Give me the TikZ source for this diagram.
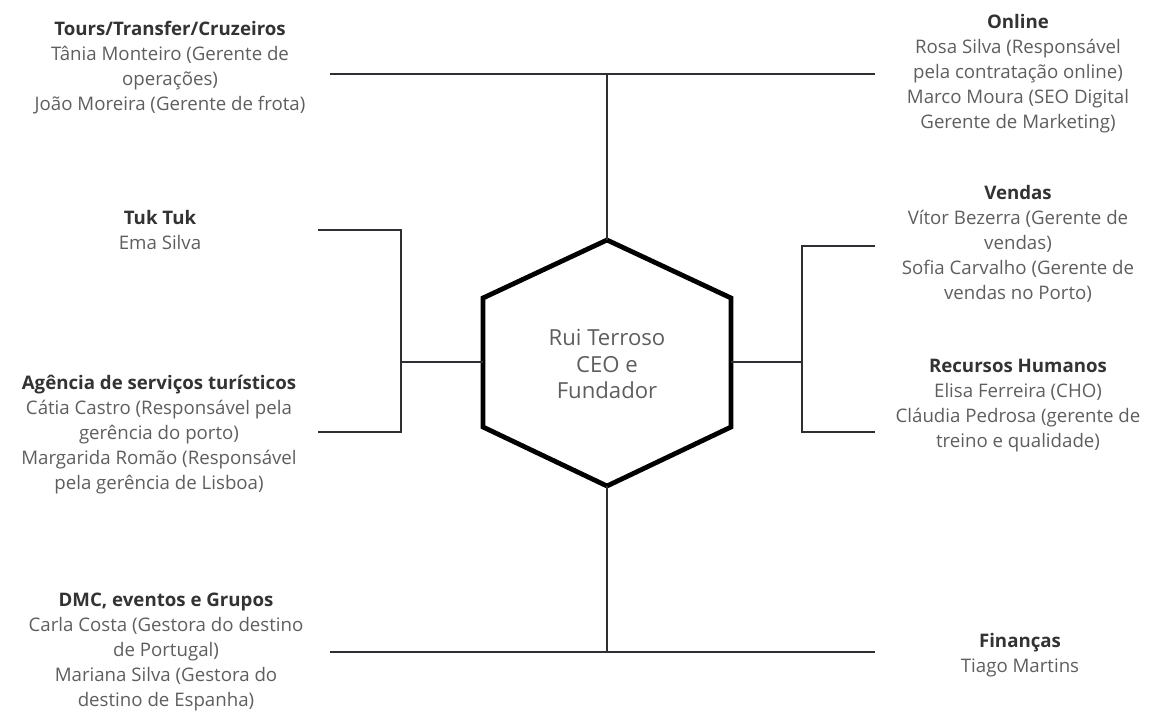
\documentclass[tikz,border=0pt]{standalone}
\usepackage{fontspec}
\setmainfont{Open Sans}
\definecolor{headc}{HTML}{333333}
\definecolor{bodyc}{HTML}{5E5E5E}
\definecolor{linkc}{HTML}{2E2E33}
\tikzset{
  dept/.style={align=center, inner sep=0pt, anchor=north, text=bodyc,
    font={\fontsize{14pt}{18.75pt}\selectfont}},
  link/.style={draw=linkc, line width=1.6pt},
  hexa/.style={draw=black, line width=3.6pt, line join=miter},
}
\newcommand{\hd}[1]{{\color{headc}\bfseries #1}}
\begin{document}
\begin{tikzpicture}[x=0.75pt, y=-0.75pt]
\useasboundingbox (0,0) rectangle (1150,715);

% central hexagon
\coordinate (ht) at (607,240);
\coordinate (hb) at (607,486);
\coordinate (hl) at (483,362);
\coordinate (hr) at (731,362);
\draw[hexa] (607,240) -- (731,298) -- (731,427) -- (607,486) -- (483,427) -- (483,298) -- cycle;
\node[align=center, inner sep=0pt, text=bodyc, font={\fontsize{16.6pt}{20pt}\selectfont}] (ceo) at (607,364) {Rui Terroso\\CEO e\\Fundador};

% junction points
\coordinate (tj) at (607,74);
\coordinate (tl) at (330,74);
\coordinate (tr) at (875,74);
\coordinate (bj) at (607,652);
\coordinate (bl) at (330,652);
\coordinate (br) at (875,652);
\coordinate (lj) at (401,362);
\coordinate (lt) at (401,230);
\coordinate (lb) at (401,432);
\coordinate (ltl) at (318,230);
\coordinate (lbl) at (318,432);
\coordinate (rj) at (802,362);
\coordinate (rt) at (802,246);
\coordinate (rb) at (802,432);
\coordinate (rtr) at (875,246);
\coordinate (rbr) at (875,432);

% connectors
\draw[link] (ht) -- (tj);
\draw[link] (tl) -- (tr);
\draw[link] (hb) -- (bj);
\draw[link] (bl) -- (br);
\draw[link] (hl) -- (lj);
\draw[link] (ltl) -- (lt) -- (lb) -- (lbl);
\draw[link] (hr) -- (rj);
\draw[link] (rtr) -- (rt) -- (rb) -- (rbr);

% departments, left side
\node[dept] (tours) at (170,21) {\hd{Tours/Transfer/Cruzeiros}\\T\^ania Monteiro (Gerente de\\operações)\\João Moreira (Gerente de frota)};
\node[dept] (tuk) at (160,210) {\hd{Tuk Tuk}\\Ema Silva};
\node[dept] (agencia) at (159,375) {\hd{Agência de serviços turísticos}\\Cátia Castro (Responsável pela\\gerência do porto)\\Margarida Romão (Responsável\\pela gerência de Lisboa)};
\node[dept] (dmc) at (166,593) {\hd{DMC, eventos e Grupos}\\Carla Costa (Gestora do destino\\de Portugal)\\Mariana Silva (Gestora do\\destino de Espanha)};

% departments, right side
\node[dept] (online) at (1018,14) {\hd{Online}\\Rosa Silva (Responsável\\pela contratação online)\\Marco Moura (SEO Digital\\Gerente de Marketing)};
\node[dept] (vendas) at (1018,185) {\hd{Vendas}\\Vítor Bezerra (Gerente de\\vendas)\\Sofia Carvalho (Gerente de\\vendas no Porto)};
\node[dept] (rh) at (1018,359) {\hd{Recursos Humanos}\\Elisa Ferreira (CHO)\\Cláudia Pedrosa (gerente de\\treino e qualidade)};
\node[dept] (fin) at (1020,633) {\hd{Finanças}\\Tiago Martins};
\end{tikzpicture}
\end{document}
